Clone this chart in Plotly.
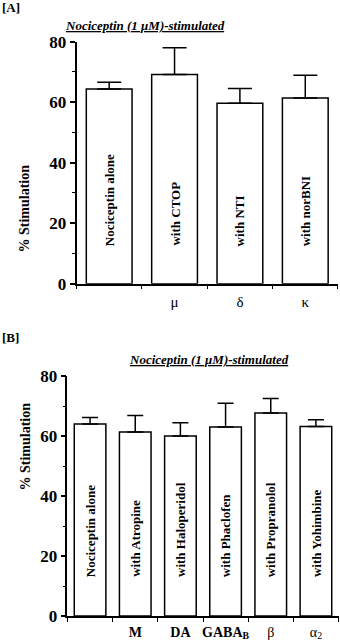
import plotly.graph_objects as go

# ---- data ----
a_labels = ["Nociceptin alone", "with CTOP", "with NTI", "with norBNI"]
a_values = [64.4, 69.2, 59.7, 61.4]
a_errors = [2.2, 8.8, 4.8, 7.5]
a_tickpos = [1, 2, 3]
a_ticks = ["μ", "δ", "κ"]

b_labels = ["Nociceptin alone", "with Atropine", "with Haloperidol",
            "with Phaclofen", "with Propranolol", "with Yohimbine"]
b_values = [64.0, 61.3, 60.0, 63.0, 67.7, 63.2]
b_errors = [2.2, 5.5, 4.4, 7.9, 4.8, 2.2]
b_tickpos = [1, 2, 3, 4, 5]
b_ticks = ["<b>M</b>", "<b>DA</b>", "<b>GABA<sub>B</sub></b>", "β", "α<sub>2</sub>"]

title_text = "<b><i><u>Nociceptin (1 μM)-stimulated</u></i></b>"
ytitle = "<b>% Stimulation</b>"

FONT = "Liberation Serif, Times New Roman, serif"

fig = go.Figure()

fig.add_trace(go.Bar(
    x=list(range(len(a_values))), y=a_values, xaxis="x", yaxis="y",
    marker=dict(color="white", line=dict(color="black", width=1.5)),
    error_y=dict(type="data", array=a_errors, arrayminus=[0] * len(a_errors),
                 symmetric=False, color="black", thickness=1.5, width=12),
    showlegend=False, hoverinfo="skip"))

fig.add_trace(go.Bar(
    x=list(range(len(b_values))), y=b_values, xaxis="x2", yaxis="y2",
    marker=dict(color="white", line=dict(color="black", width=1.5)),
    error_y=dict(type="data", array=b_errors, arrayminus=[0] * len(b_errors),
                 symmetric=False, color="black", thickness=1.5, width=8),
    showlegend=False, hoverinfo="skip"))

def xaxis_cfg(n, dom, tickpos, ticktext, standoff, size):
    return dict(domain=dom, range=[-0.5, n - 0.5], showline=True, linecolor="black",
                linewidth=1.5, tickmode="array", tickvals=tickpos, ticktext=ticktext,
                ticks="", showgrid=False, zeroline=False, ticklabelstandoff=standoff,
                automargin=False,
                tickfont=dict(family=FONT, size=size, color="black"),
                minor=dict(tick0=0.5, dtick=1, ticks="outside", ticklen=4,
                           tickwidth=1, tickcolor="black"))

def yaxis_cfg(dom, anchor):
    return dict(domain=dom, range=[0, 80], anchor=anchor, showline=True, linecolor="black",
                linewidth=1.5, tickmode="array", tickvals=[0, 20, 40, 60, 80],
                ticks="outside", ticklen=5, tickwidth=1.5, tickcolor="black",
                showgrid=False, zeroline=False, automargin=False,
                tickfont=dict(family=FONT, size=17, color="black", weight="bold"),
                minor=dict(tickvals=[10, 30, 50, 70], ticks="outside", ticklen=3,
                           tickwidth=1, tickcolor="black"))

fig.update_layout(
    template="none",
    width=340, height=640, margin=dict(l=0, r=0, t=0, b=0, autoexpand=False),
    paper_bgcolor="white", plot_bgcolor="white",
    bargap=0.3,
    xaxis=dict(**xaxis_cfg(len(a_values), [0.225, 0.994], a_tickpos, a_ticks, 4, 15), anchor="y"),
    yaxis=yaxis_cfg([0.5567, 0.9348], "x"),
    xaxis2=dict(**xaxis_cfg(len(b_values), [0.1985, 0.9956], b_tickpos, b_ticks, 2, 14), anchor="y2"),
    yaxis2=yaxis_cfg([0.0375, 0.4125], "x2"),
    font=dict(family=FONT, color="black"),
)

ann = []
# bar labels
for i, t in enumerate(a_labels):
    ann.append(dict(x=i, y=11.8, xref="x", yref="y", text="<b>" + t + "</b>",
                    textangle=-90, showarrow=False, yanchor="bottom", xanchor="center",
                    font=dict(family=FONT, size=13, color="black")))
for i, t in enumerate(b_labels):
    ann.append(dict(x=i, y=12.3, xref="x2", yref="y2", text="<b>" + t + "</b>",
                    textangle=-90, showarrow=False, yanchor="bottom", xanchor="center",
                    font=dict(family=FONT, size=13, color="black")))
# titles
ann.append(dict(x=227 / 340, y=1 - 16 / 640, xref="paper", yref="paper", text=title_text,
                showarrow=False, font=dict(family=FONT, size=13, color="black")))
ann.append(dict(x=209 / 340, y=1 - 359 / 640, xref="paper", yref="paper", text=title_text,
                showarrow=False, font=dict(family=FONT, size=13, color="black")))
# panel labels
ann.append(dict(x=0, y=1 - 7.5 / 640, xref="paper", yref="paper", text="<b>[A]</b>",
                showarrow=False, xanchor="left", yanchor="middle",
                font=dict(family=FONT, size=13, color="black")))
ann.append(dict(x=0, y=1 - 337.5 / 640, xref="paper", yref="paper", text="<b>[B]</b>",
                showarrow=False, xanchor="left", yanchor="middle",
                font=dict(family=FONT, size=13, color="black")))
# y titles
ann.append(dict(x=15 / 340, y=1 - 163 / 640, xref="paper", yref="paper", text=ytitle,
                textangle=-90, showarrow=False,
                font=dict(family=FONT, size=14, color="black")))
ann.append(dict(x=15 / 340, y=1 - 493 / 640, xref="paper", yref="paper", text=ytitle,
                textangle=-90, showarrow=False,
                font=dict(family=FONT, size=14, color="black")))
fig.update_layout(annotations=ann)

fig.write_html("out.html", config={"displayModeBar": False},
               post_script="document.body.style.margin='0';document.body.style.overflow='hidden';")
